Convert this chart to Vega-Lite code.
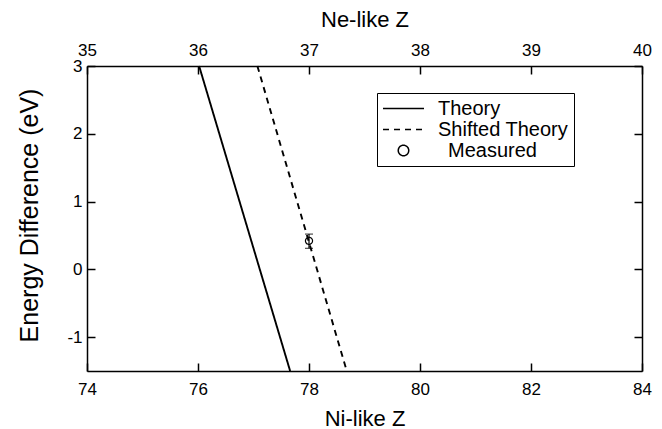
{
  "$schema": "https://vega.github.io/schema/vega-lite/v6.json",
  "width": 555,
  "height": 305,
  "autosize": {"type": "none"},
  "padding": {"left": 87, "top": 66, "right": 20, "bottom": 58},
  "config": {
    "font": "Liberation Sans",
    "view": {"stroke": null},
    "axis": {
      "grid": false,
      "domainColor": "black",
      "domainWidth": 1.5,
      "tickColor": "black",
      "tickWidth": 1.5,
      "labelColor": "black",
      "labelFontSize": 17,
      "labelFlush": false,
      "labelExpr": "'' + datum.value",
      "titleColor": "black",
      "titleFontSize": 22,
      "titleFontWeight": "normal"
    }
  },
  "layer": [
    {
      "layer": [
        {
          "data": {
            "values": [
              {"series": "Theory", "ni": 76.02, "energy": 3},
              {"series": "Theory", "ni": 77.66, "energy": -1.5},
              {"series": "Shifted Theory", "ni": 77.07, "energy": 3},
              {"series": "Shifted Theory", "ni": 78.68, "energy": -1.5}
            ]
          },
          "mark": {"type": "line", "color": "black", "strokeWidth": 1.9},
          "encoding": {
            "x": {
              "field": "ni", "type": "quantitative",
              "scale": {"domain": [74, 84], "nice": false, "zero": false},
              "axis": {"orient": "bottom", "values": [74, 76, 78, 80, 82, 84], "tickSize": -8, "labelPadding": 18, "title": "Ni-like Z", "titlePadding": 11}
            },
            "y": {
              "field": "energy", "type": "quantitative",
              "scale": {"domain": [-1.5, 3], "nice": false, "zero": false},
              "axis": {"orient": "left", "values": [-1, 0, 1, 2, 3], "tickSize": -8, "labelPadding": 13, "title": "Energy Difference (eV)", "titleFontSize": 25, "titlePadding": 24, "titleY": 149}
            },
            "strokeDash": {
              "field": "series", "type": "nominal",
              "scale": {"domain": ["Theory", "Shifted Theory", "Measured"], "range": [[1, 0], [6, 5], [1, 0]]},
              "legend": {
                "orient": "none",
                "legendX": 290,
                "legendY": 27,
                "title": null,
                "strokeColor": "black",
                "padding": 5,
                "labelFontSize": 20,
                "labelColor": "black",
                "labelOffset": 13,
                "clipHeight": 21,
                "rowPadding": 0,
                "symbolSize": 100,
                "symbolStrokeColor": "black",
                "symbolFillColor": "transparent",
                "symbolStrokeWidth": 1.5,
                "encode": {
                  "symbols": {
                    "update": {
                      "shape": {"signal": "datum.value === 'Measured' ? 'circle' : 'stroke'"},
                      "size": {"signal": "datum.value === 'Measured' ? 110 : 1681"},
                      "strokeDash": {"signal": "datum.value === 'Shifted Theory' ? [6, 5] : [1, 0]"}
                    }
                  },
                  "labels": {
                    "update": {
                      "text": {"signal": "datum.value === 'Shifted Theory' ? 'Shifted Theory\u00a0\u00a0\u00a0\u00a0\u00a0' : datum.value"},
                      "dx": {"signal": "datum.value === 'Measured' ? 10 : 0"}
                    }
                  }
                }
              }
            }
          }
        },
        {
          "data": {"values": [{"series": "Measured", "ni": 78.0, "energy": 0.42, "lo": 0.31, "hi": 0.52}]},
          "layer": [
            {
              "mark": {"type": "rule", "color": "black", "strokeWidth": 1.2},
              "encoding": {
                "x": {"field": "ni", "type": "quantitative"},
                "y": {"field": "lo", "type": "quantitative"},
                "y2": {"field": "hi"}
              }
            },
            {
              "mark": {"type": "tick", "orient": "horizontal", "color": "black", "size": 8, "thickness": 1.2},
              "encoding": {
                "x": {"field": "ni", "type": "quantitative"},
                "y": {"field": "lo", "type": "quantitative"}
              }
            },
            {
              "mark": {"type": "tick", "orient": "horizontal", "color": "black", "size": 8, "thickness": 1.2},
              "encoding": {
                "x": {"field": "ni", "type": "quantitative"},
                "y": {"field": "hi", "type": "quantitative"}
              }
            },
            {
              "mark": {"type": "point", "shape": "circle", "size": 50, "filled": false, "color": "black", "strokeWidth": 1.2, "opacity": 1},
              "encoding": {
                "x": {"field": "ni", "type": "quantitative"},
                "y": {"field": "energy", "type": "quantitative"},
                "strokeDash": {"field": "series", "type": "nominal"}
              }
            }
          ]
        }
      ]
    },
    {
      "data": {"values": [{"ne": 35, "e": 0}]},
      "mark": {"type": "point", "opacity": 0},
      "encoding": {
        "x": {
          "field": "ne", "type": "quantitative",
          "scale": {"domain": [35, 40], "nice": false, "zero": false},
          "axis": {"orient": "top", "values": [35, 36, 37, 38, 39, 40], "tickSize": -8, "labelPadding": 15, "title": "Ne-like Z", "titlePadding": 10}
        },
        "y": {
          "field": "e", "type": "quantitative",
          "scale": {"domain": [-1.5, 3], "nice": false, "zero": false},
          "axis": {"orient": "right", "values": [-1, 0, 1, 2, 3], "tickSize": -8, "labels": false, "title": null}
        }
      }
    }
  ],
  "resolve": {"scale": {"x": "independent", "y": "independent"}}
}
